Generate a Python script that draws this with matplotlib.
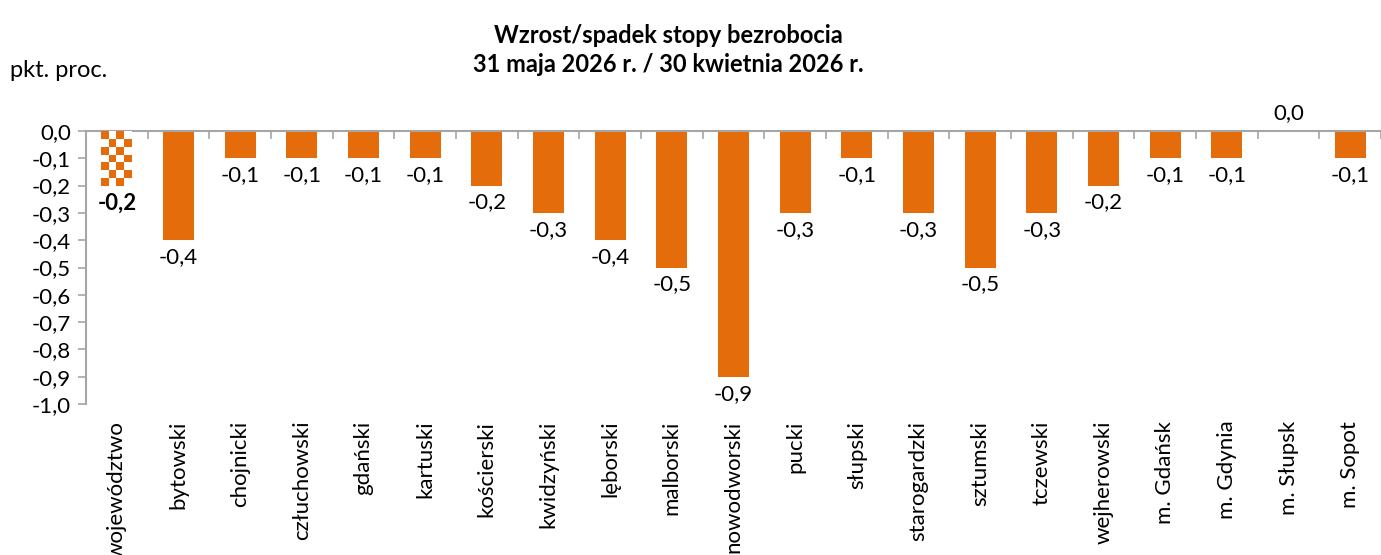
import matplotlib.pyplot as plt
import numpy as np
from matplotlib.ticker import FixedLocator
from matplotlib.colors import ListedColormap

plt.rcParams['font.family'] = ['Lato', 'DejaVu Sans']

categories = ["województwo", "bytowski", "chojnicki", "człuchowski", "gdański", "kartuski",
              "kościerski", "kwidzyński", "lęborski", "malborski", "nowodworski", "pucki",
              "słupski", "starogardzki", "sztumski", "tczewski", "wejherowski", "m. Gdańsk",
              "m. Gdynia", "m. Słupsk", "m. Sopot"]
values = [-0.2, -0.4, -0.1, -0.1, -0.1, -0.1, -0.2, -0.3, -0.4, -0.5, -0.9, -0.3,
          -0.1, -0.3, -0.5, -0.3, -0.2, -0.1, -0.1, 0.0, -0.1]
yticks = [0.0, -0.1, -0.2, -0.3, -0.4, -0.5, -0.6, -0.7, -0.8, -0.9, -1.0]

orange = "#E46C0A"
grey = "#A6A6A6"
fs = 16

fig = plt.figure(figsize=(13.81, 5.55), dpi=100)
ax = fig.add_axes([0.0623, 0.272, 0.9377, 0.492])

x = np.arange(len(categories))
bars = ax.bar(x, values, width=0.5, color=orange, zorder=2)

# checkerboard for the first bar (województwo)
b0 = bars[0]
b0.set_facecolor("white")
checks = np.indices((7, 4)).sum(axis=0) % 2
x0, w = b0.get_x(), b0.get_width()
y0, h = b0.get_y(), b0.get_height()
im = ax.imshow(checks, cmap=ListedColormap([orange, "white"]), aspect="auto",
               extent=(x0, x0 + w, y0 + h, y0), origin="upper", zorder=3,
               interpolation="nearest")
im.set_clip_path(b0)

def fmt(v):
    return ("%.1f" % v).replace(".", ",")

for i, v in enumerate(values):
    if v == 0:
        ax.annotate(fmt(v), (x[i], v), xytext=(0, 6), textcoords="offset points",
                    ha="center", va="bottom", fontsize=fs)
    else:
        ax.annotate(fmt(v), (x[i], v), xytext=(0, -5), textcoords="offset points",
                    ha="center", va="top", fontsize=fs,
                    fontweight="bold" if i == 0 else "normal")

ax.set_xlim(-0.5, len(categories) - 0.5)
ax.set_ylim(-1.0, 0.0)
ax.set_yticks(yticks)
ax.set_yticklabels([fmt(t) for t in yticks], fontsize=fs)
ax.tick_params(axis="y", direction="out", length=6, color=grey, width=1.2, pad=5)

ax.set_xticks(x)
ax.set_xticklabels(categories, rotation=90, fontsize=fs, va="top")
ax.tick_params(axis="x", which="major", length=0, pad=12, bottom=True, top=False)

# category separator ticks on the zero line (top spine)
ax.xaxis.set_minor_locator(FixedLocator(np.arange(-0.5, len(categories), 1.0)))
ax.tick_params(axis="x", which="minor", direction="in", length=6, color=grey,
               width=1.2, top=True, bottom=False)

for s in ["right", "bottom"]:
    ax.spines[s].set_visible(False)
for s in ["top", "left"]:
    ax.spines[s].set_color(grey)
    ax.spines[s].set_linewidth(1.5)

fig.text(0.484, 0.91, "Wzrost/spadek stopy bezrobocia\n31 maja 2026 r. / 30 kwietnia 2026 r.",
         ha="center", va="center", fontsize=17, fontweight="bold", linespacing=1.35)
fig.text(0.007, 0.873, "pkt. proc.", ha="left", va="center", fontsize=17)

fig.savefig("out.png", dpi=100)
